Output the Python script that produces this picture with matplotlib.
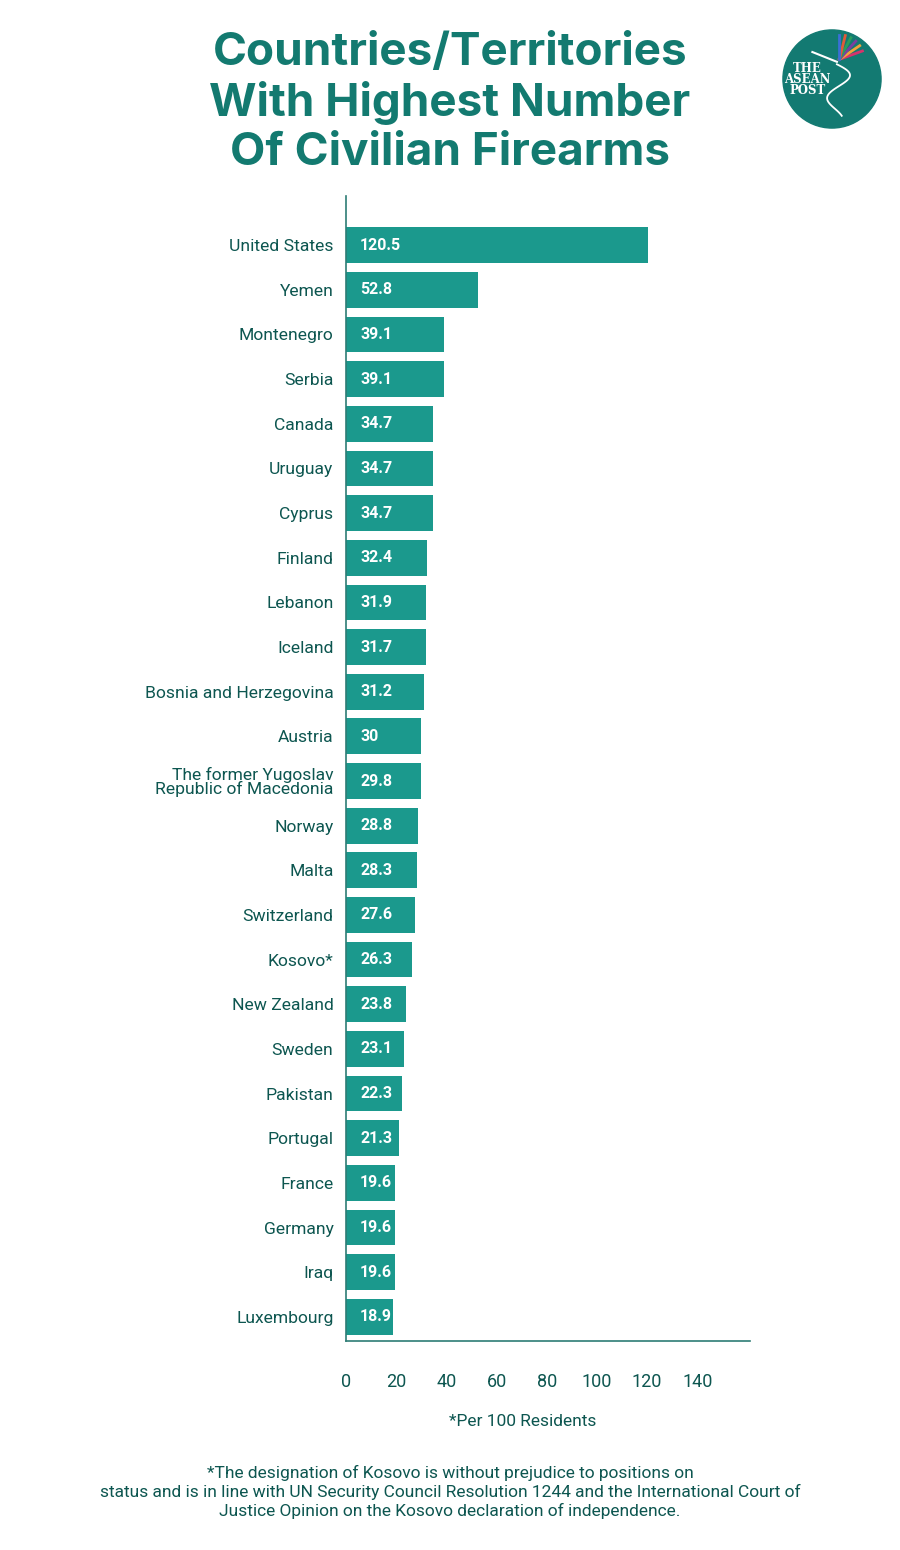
import numpy as np
import matplotlib
matplotlib.use("Agg")
import matplotlib.pyplot as plt
from matplotlib.patches import Circle

plt.rcParams['font.family'] = ['Roboto', 'DejaVu Sans']

countries = ['United States', 'Yemen', 'Montenegro', 'Serbia', 'Canada', 'Uruguay',
             'Cyprus', 'Finland', 'Lebanon', 'Iceland', 'Bosnia and Herzegovina',
             'Austria', 'The former Yugoslav\nRepublic of Macedonia', 'Norway', 'Malta',
             'Switzerland', 'Kosovo*', 'New Zealand', 'Sweden', 'Pakistan', 'Portugal',
             'France', 'Germany', 'Iraq', 'Luxembourg']
values = [120.5, 52.8, 39.1, 39.1, 34.7, 34.7, 34.7, 32.4, 31.9, 31.7, 31.2, 30,
          29.8, 28.8, 28.3, 27.6, 26.3, 23.8, 23.1, 22.3, 21.3, 19.6, 19.6, 19.6, 18.9]
value_labels = ['120.5', '52.8', '39.1', '39.1', '34.7', '34.7', '34.7', '32.4', '31.9',
                '31.7', '31.2', '30', '29.8', '28.8', '28.3', '27.6', '26.3', '23.8',
                '23.1', '22.3', '21.3', '19.6', '19.6', '19.6', '18.9']
ticks = [0, 20, 40, 60, 80, 100, 120, 140]

bar_col = '#1b998d'
text_col = '#0d5650'
title_col = '#137a70'

fig = plt.figure(figsize=(9, 15.5), dpi=100)
ax = fig.add_axes([346/900, 1 - 1341/1550, 404/900, 1145/1550])

y = np.arange(len(countries))
ax.barh(y, values, height=0.8, color=bar_col)
ax.set_ylim(len(countries) - 0.46, -1.1)
ax.set_xlim(0, 161)

for i, (v, lab) in enumerate(zip(values, value_labels)):
    ax.text(5.6, i, lab, color='white', fontsize=11.5, fontweight='bold',
            va='center', ha='left')

ax.set_yticks(y)
ax.set_yticklabels(countries, fontsize=12.6, color=text_col, linespacing=0.85)
ax.set_xticks(ticks)
ax.set_xticklabels([str(t) for t in ticks], fontsize=13, color=text_col)
ax.tick_params(axis='both', length=0)
ax.tick_params(axis='y', pad=9)
ax.tick_params(axis='x', pad=23)

for s in ['top', 'right']:
    ax.spines[s].set_visible(False)
for s in ['left', 'bottom']:
    ax.spines[s].set_color('#2e7d75')
    ax.spines[s].set_linewidth(1.2)

# title
fig.text(450/900, 1 - 103/1550, 'Countries/Territories\nWith Highest Number\nOf Civilian Firearms',
         ha='center', va='center', fontsize=33, fontweight='bold', color=title_col,
         family=['Inter', 'DejaVu Sans'], linespacing=1.22)

# logo
logo = fig.add_axes([780/900, 1 - 131/1550, 104/900, 104/1550])
logo.set_xlim(-1.06, 1.06)
logo.set_ylim(-1.06, 1.06)
logo.set_aspect('equal')
logo.axis('off')
logo.add_patch(Circle((0, 0), 1, color='#137a72'))
logo.text(-0.5, -0.02, 'THE\nASEAN\nPOST', color='white', fontsize=8.5, fontweight='bold',
          family='DejaVu Serif', ha='center', va='center', linespacing=0.8)
tt = np.linspace(0, 1, 60)
logo.plot(0.1 + 0.3 * np.sin(tt * 7) * (1 - 0.5 * tt), 0.3 - 1.05 * tt, color='white', lw=1.3)
logo.plot([-0.4, 0.1], [0.55, 0.35], color='white', lw=1.5)
for k, c in enumerate(['#d6336c', '#f2a33a', '#7a3fa0', '#2a9d5c', '#e05a3a', '#3a6fd6']):
    a = np.deg2rad(20 + k * 14)
    logo.plot([0.15, 0.15 + 0.5 * np.cos(a)], [0.4, 0.4 + 0.5 * np.sin(a)],
              color=c, lw=2)

fig.text(523/900, 1 - 1422/1550, '*Per 100 Residents', ha='center', va='center',
         fontsize=12.5, color=text_col)
fig.text(450/900, 1 - 1492/1550,
         '*The designation of Kosovo is without prejudice to positions on\n'
         'status and is in line with UN Security Council Resolution 1244 and the International Court of\n'
         'Justice Opinion on the Kosovo declaration of independence.',
         ha='center', va='center', fontsize=12.5, color=text_col, linespacing=1.25)

fig.savefig('out.png', dpi=100, facecolor='white')
